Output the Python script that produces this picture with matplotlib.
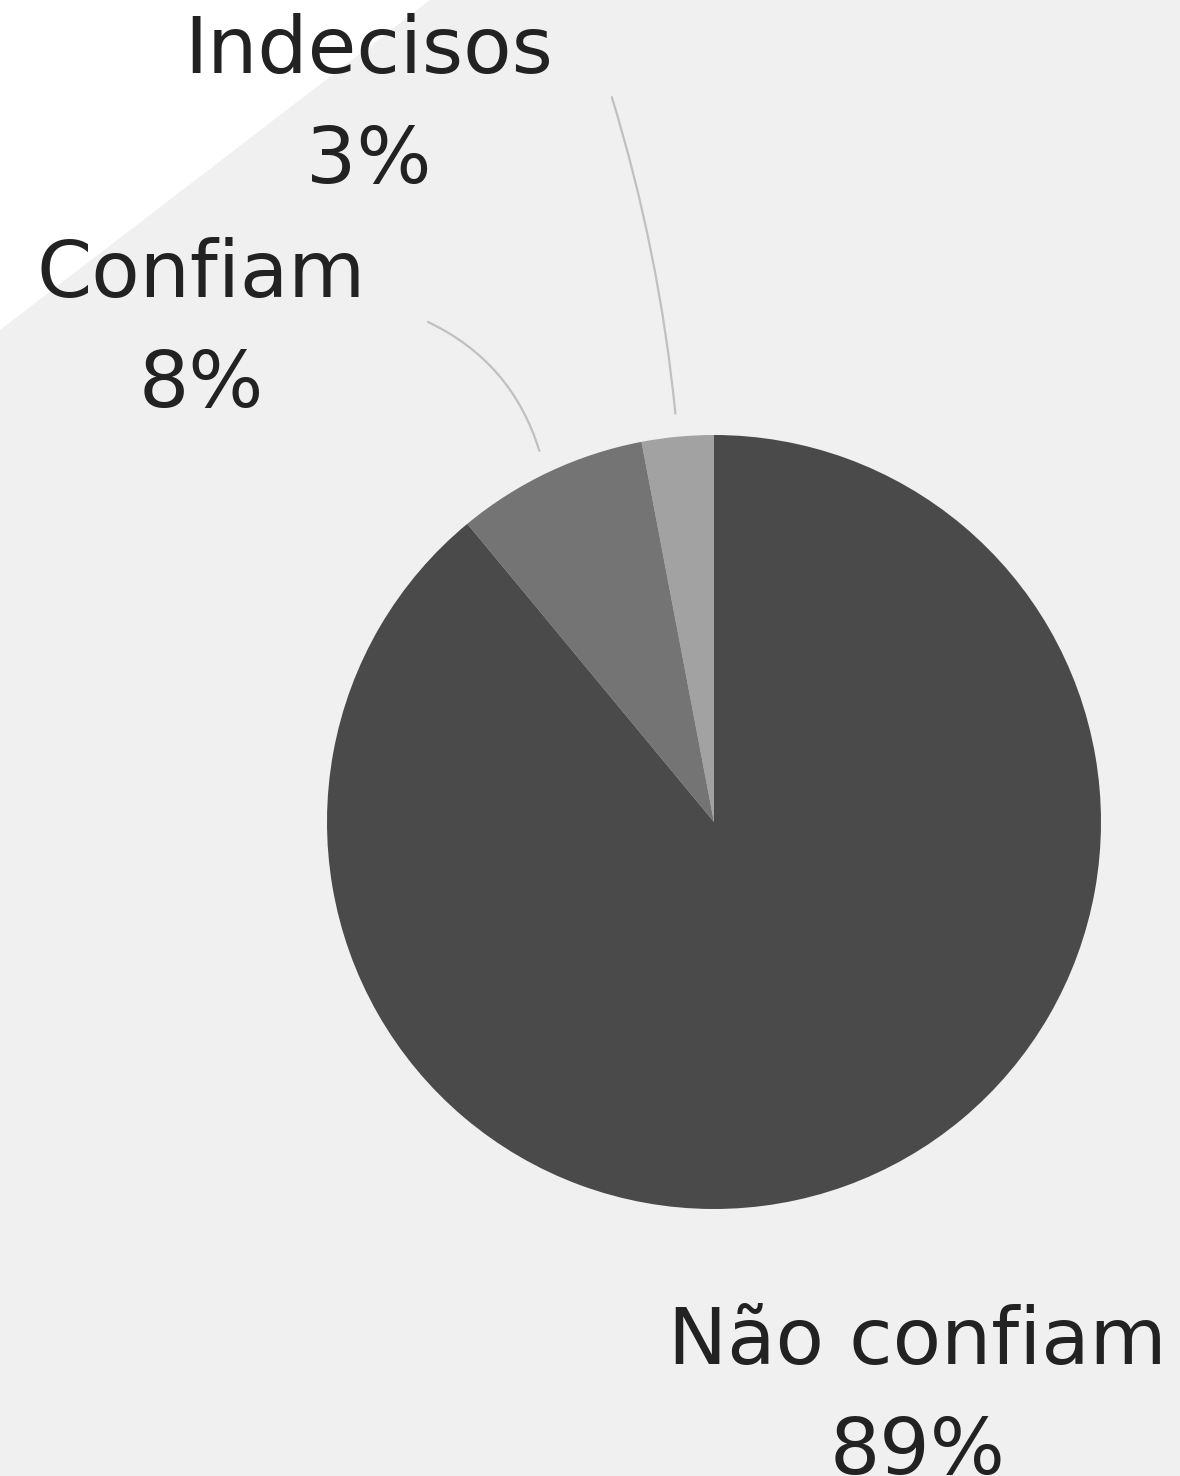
import matplotlib.pyplot as plt
from matplotlib.patches import Polygon
import numpy as np

labels = ['Indecisos', 'Confiam', 'Não confiam']
values = [3, 8, 89]
colors = ['#a2a2a2', '#747474', '#4a4a4a']

# label anchors (data units, radius = 1), baseline of the last line
label_pos = [(-0.891, 1.651), (-1.326, 1.072), (0.525, -1.685)]
# leader line start points near the labels (None = no leader)
leader_start = [(-0.264, 1.873), (-0.739, 1.292), None]
leader_rad = [-0.05, -0.22, 0]

fig = plt.figure(figsize=(11.8, 14.76), dpi=100)
fig.patch.set_facecolor('#f0f0f0')
fig.patches.append(Polygon([(0, 1), (430 / 1180, 1), (0, 1 - 330 / 1476)],
                           closed=True, facecolor='white', edgecolor='none',
                           transform=fig.transFigure, zorder=-10))

ax = fig.add_axes([0, 0, 1, 1])
ax.set_facecolor('none')

wedges, _ = ax.pie(values, colors=colors, startangle=90, counterclock=True,
                   radius=1, wedgeprops=dict(linewidth=0))

# pie() sets its own limits, so fix them afterwards
ax.set_xlim(-714 / 387, (1180 - 714) / 387)
ax.set_ylim(-(1476 - 822) / 387, 822 / 387)
ax.set_aspect('equal')
ax.axis('off')

for w, lab, v, pos, start, rad in zip(wedges, labels, values, label_pos,
                                      leader_start, leader_rad):
    ax.text(pos[0], pos[1], f'{lab}\n{v}%', ha='center', va='baseline',
            fontsize=57, color='#222222', linespacing=1.57,
            family='DejaVu Sans')
    if start is not None:
        mid = np.deg2rad((w.theta1 + w.theta2) / 2)
        end = (1.06 * np.cos(mid), 1.06 * np.sin(mid))
        ax.annotate('', xy=end, xytext=start,
                    arrowprops=dict(arrowstyle='-', color='#c0c0c0', lw=1.6,
                                    shrinkA=0, shrinkB=0,
                                    connectionstyle=f'arc3,rad={rad}'))

fig.savefig('out.png', dpi=100, facecolor=fig.get_facecolor())
